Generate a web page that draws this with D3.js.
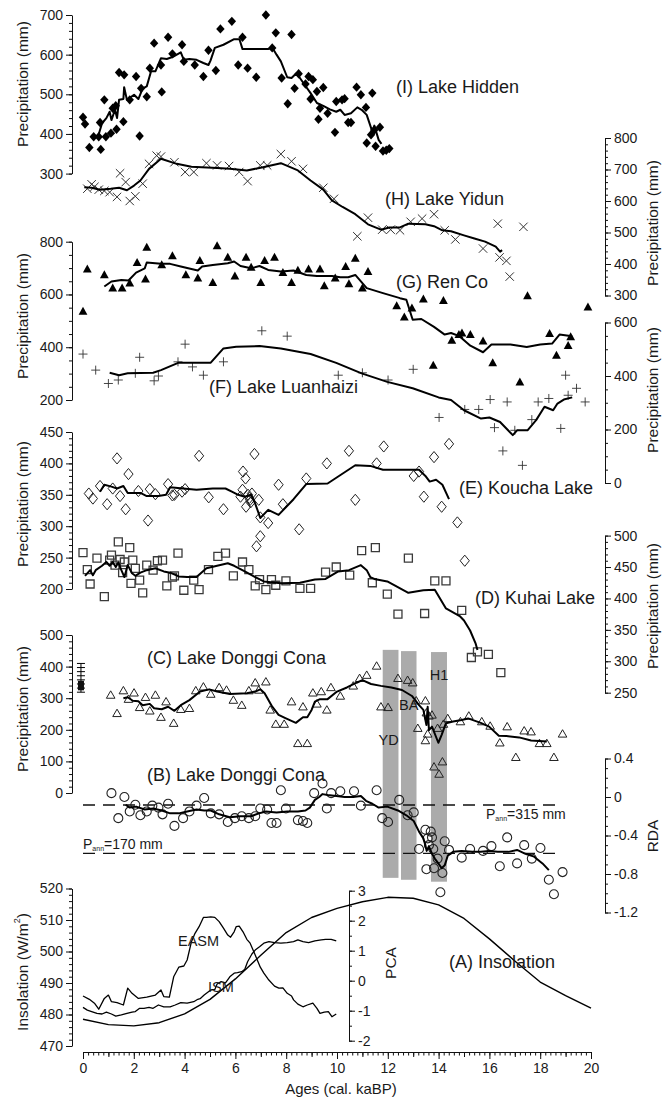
<!DOCTYPE html>
<html>
<head>
<meta charset="utf-8">
<script src="https://cdn.jsdelivr.net/npm/d3@7/dist/d3.min.js"></script>
<style>
  html, body { margin: 0; padding: 0; background: #fff; }
  svg { display: block; font-family: "Liberation Sans", Arial, sans-serif; }
  .axis .domain, .axis line { stroke: #111; stroke-width: 1; }
  .axis text { fill: #1a1a1a; }
</style>
</head>
<body>
<svg id="chart" width="668" height="1097"></svg>
<script>
// ---------- data: [age (cal. kaBP), value] ----------
const hiddenPts = [[0.0,442],[0.08,425],[0.25,366],[0.42,393],[0.62,393],[0.67,429],[0.7,361],[0.84,486],[0.9,393],[1.1,402],[1.17,465],[1.29,471],[1.32,412],[1.42,555],[1.59,431],[1.62,549],[1.84,486],[2.09,545],[2.23,395],[2.29,515],[2.51,494],[2.63,566],[2.8,629],[3.07,574],[3.1,506],[3.35,644],[3.52,602],[3.9,625],[3.97,583],[4.4,574],[4.74,545],[4.94,611],[5.23,560],[5.41,665],[5.86,684],[6.11,574],[6.28,644],[6.48,566],[6.82,543],[7.2,700],[7.45,617],[7.59,655],[7.82,541],[8.06,476],[8.21,651],[8.33,515],[8.49,552],[8.76,526],[8.88,545],[8.96,488],[9.05,537],[9.21,507],[9.27,437],[9.33,465],[9.46,517],[9.63,452],[9.92,404],[9.97,482],[10.2,486],[10.3,489],[10.44,429],[10.55,429],[10.77,518],[10.94,499],[11.14,467],[11.17,377],[11.34,398],[11.39,503],[11.47,410],[11.52,369],[11.69,417],[11.81,357],[11.94,359],[12.06,363]];
const hiddenLine = [[0.59,393],[0.75,427],[0.92,440],[1.05,456],[1.12,435],[1.26,461],[1.34,440],[1.42,486],[1.59,488],[1.62,518],[1.73,486],[2.01,499],[2.18,488],[2.35,515],[2.51,520],[2.68,558],[2.85,558],[3.07,591],[3.3,589],[3.52,594],[3.85,606],[3.97,587],[4.19,589],[4.47,587],[4.74,579],[4.94,574],[5.02,585],[5.19,617],[5.53,625],[5.95,639],[6.16,639],[6.28,614],[6.53,614],[7.29,614],[7.45,618],[7.62,600],[7.79,583],[8.04,543],[8.21,541],[8.38,552],[8.54,541],[8.76,521],[8.96,503],[9.21,478],[9.46,471],[9.72,462],[9.97,456],[10.13,461],[10.3,448],[10.55,452],[10.8,467],[10.97,461],[11.17,448],[11.39,406],[11.47,421],[11.64,385],[11.75,375]];

const yidunPts = [[0.17,639],[0.34,653],[0.45,645],[0.62,636],[0.84,632],[1.05,628],[1.34,613],[1.46,688],[1.68,660],[1.84,600],[2.06,615],[2.35,655],[2.6,718],[2.9,744],[3.07,741],[3.6,723],[4.02,692],[4.36,692],[4.86,720],[5.28,713],[5.75,711],[6.15,692],[6.48,663],[6.98,713],[7.25,713],[7.79,749],[8.21,726],[8.66,702],[9.46,642],[9.88,607],[10.8,488],[11.22,547],[11.78,509],[12.11,509],[12.48,507],[12.9,534],[13.35,544],[13.82,558],[14.24,507],[14.66,478],[15.75,449],[16.33,528],[16.4,421],[16.67,410],[16.8,360],[17.34,518]];
const yidunLine = [[0.05,644],[0.34,642],[0.67,636],[1.09,639],[1.42,642],[1.73,634],[2.01,649],[2.26,665],[2.6,702],[3.07,734],[3.69,718],[4.27,709],[5.28,705],[5.78,702],[6.45,697],[6.95,705],[7.79,720],[8.46,697],[8.96,665],[9.46,636],[9.8,602],[10.22,581],[10.72,558],[11.22,526],[11.73,509],[12.06,516],[12.48,516],[12.81,528],[13.48,526],[13.82,520],[14.15,507],[14.49,504],[15.0,491],[15.41,481],[15.83,471],[16.25,455],[16.42,439],[16.5,444]];

const renPts = [[0.0,536],[0.17,696],[0.84,674],[1.17,624],[1.54,624],[1.84,643],[2.13,721],[2.46,658],[2.51,779],[3.1,712],[3.52,746],[4.05,674],[4.52,662],[4.6,728],[5.11,645],[5.28,784],[5.7,741],[5.98,670],[6.42,741],[6.62,703],[7.0,645],[7.15,728],[7.54,741],[7.87,683],[8.21,645],[8.46,691],[8.88,696],[9.33,696],[9.5,633],[9.93,662],[10.34,706],[10.47,640],[10.72,737],[11.0,624],[11.22,687],[12.35,557],[12.65,514],[12.95,548],[13.4,582],[13.79,331],[14.19,577],[14.52,426],[14.8,448],[14.92,454],[15.25,448],[15.75,423],[16.13,341],[17.2,268],[17.5,595],[18.37,452],[18.64,369],[19.1,406],[19.2,439],[19.88,552]];
const renLine = [[0.84,630],[1.12,649],[1.51,655],[1.79,653],[2.09,683],[2.43,699],[2.51,721],[3.07,716],[3.43,716],[3.85,706],[4.52,691],[4.69,706],[5.11,712],[5.7,718],[5.95,725],[6.2,708],[6.62,699],[6.95,708],[7.29,693],[7.79,687],[8.29,691],[8.79,674],[9.21,670],[9.8,670],[10.13,665],[10.44,665],[10.72,674],[11.17,624],[11.81,605],[12.48,586],[12.73,580],[12.98,504],[13.32,507],[13.82,477],[14.24,448],[14.49,454],[14.82,442],[15.25,406],[15.75,381],[16.08,410],[16.83,410],[17.47,401],[18.0,410],[18.47,414],[18.76,448],[19.26,442]];

const luanPts = [[0.0,482],[0.5,422],[1.0,372],[1.39,385],[2.06,410],[2.23,470],[2.8,382],[2.97,400],[3.74,453],[4.02,519],[4.31,434],[4.74,403],[5.53,453],[7.04,569],[8.04,549],[10.05,403],[11.0,412],[12.01,385],[13.0,425],[14.02,245],[15.03,275],[15.58,275],[16.03,312],[16.2,207],[16.53,120],[16.7,303],[17.0,197],[17.3,66],[17.67,237],[17.92,303],[18.34,316],[18.81,204],[19.0,403],[19.1,328],[19.43,354],[19.77,303]];
const luanLine = [[1.05,412],[1.42,403],[1.76,410],[2.76,412],[3.07,422],[3.77,450],[5.03,450],[5.53,503],[6.03,509],[6.95,512],[7.79,503],[8.96,482],[9.97,449],[10.97,410],[11.98,378],[12.98,354],[14.0,320],[14.49,310],[15.0,272],[15.67,241],[16.0,245],[16.42,228],[16.92,179],[17.09,197],[17.5,197],[17.84,235],[18.17,285],[18.51,272],[18.68,297],[18.93,312],[19.26,320]];

const kouchaPts = [[0.23,352],[0.39,344],[0.67,364],[0.95,335],[1.17,360],[1.34,408],[1.46,348],[1.68,327],[1.79,383],[2.18,356],[2.56,309],[2.63,359],[2.85,351],[3.35,367],[3.52,349],[3.6,350],[3.9,355],[4.02,359],[4.57,412],[4.95,346],[5.53,327],[6.2,347],[6.28,358],[6.3,387],[6.4,376],[6.42,331],[6.5,350],[6.55,345],[6.58,342],[6.6,338],[6.65,352],[6.75,415],[6.83,268],[6.92,342],[6.98,314],[6.98,284],[7.29,305],[7.7,366],[7.87,335],[8.51,295],[8.79,376],[9.6,400],[10.47,420],[10.72,342],[11.56,400],[11.84,427],[13.02,380],[13.23,387],[13.42,347],[13.82,410],[14.12,331],[14.41,431],[14.74,306],[15.03,245]];
const kouchaLine = [[0.67,355],[0.84,366],[1.12,363],[1.34,360],[1.59,364],[1.76,353],[2.26,353],[2.51,348],[2.97,348],[3.27,350],[3.43,362],[3.94,360],[4.47,358],[5.11,360],[5.61,360],[5.86,355],[6.11,350],[6.37,347],[6.62,350],[6.78,336],[6.98,313],[7.29,326],[7.7,318],[8.29,343],[8.79,367],[9.63,368],[10.72,397],[11.31,396],[11.81,390],[13.23,390],[13.48,380],[13.65,371],[13.9,374],[14.15,366],[14.41,343]];

const kuhaiPts = [[0.0,473],[0.17,446],[0.28,423],[0.55,464],[0.84,403],[1.05,461],[1.12,469],[1.26,453],[1.39,490],[1.46,462],[1.56,441],[1.63,458],[1.84,481],[1.89,424],[1.96,461],[2.06,448],[2.23,429],[2.35,409],[2.51,453],[2.76,445],[2.93,460],[3.13,461],[3.3,420],[3.52,434],[3.6,436],[3.74,472],[3.97,413],[4.36,429],[4.57,414],[4.94,446],[5.31,467],[5.61,472],[5.92,436],[6.28,458],[6.53,446],[6.78,420],[6.95,430],[7.2,414],[7.42,430],[7.59,421],[7.99,428],[8.54,416],[8.96,416],[9.55,442],[9.97,450],[10.5,437],[10.97,476],[11.39,425],[11.51,481],[11.98,407],[12.4,375],[12.81,464],[13.45,376],[13.85,428],[14.29,428],[14.91,381],[15.29,306],[15.53,315],[15.96,311],[16.45,282]];
const kuhaiLine = [[0.08,436],[0.28,445],[0.39,437],[0.5,445],[0.75,452],[0.92,458],[1.05,452],[1.17,458],[1.29,450],[1.39,457],[1.51,445],[1.63,434],[1.76,453],[1.93,440],[2.06,436],[2.26,441],[2.51,445],[2.85,448],[3.18,443],[3.43,441],[3.77,435],[4.1,434],[4.47,434],[4.86,448],[5.28,452],[5.7,456],[5.95,452],[6.37,443],[6.78,434],[7.12,427],[7.79,424],[8.54,425],[9.13,430],[9.55,431],[10.05,443],[10.47,445],[10.94,453],[11.17,445],[11.31,434],[11.47,431],[11.98,427],[12.81,409],[13.4,413],[13.85,414],[14.29,384],[14.83,372],[15.0,365],[15.24,349],[15.46,328],[15.53,318]];

const donggiPts = [[1.09,310],[1.34,252],[1.59,324],[1.79,297],[2.01,317],[2.23,271],[2.46,303],[2.63,260],[2.85,310],[3.07,240],[3.27,289],[3.57,221],[3.85,265],[4.19,268],[4.44,324],[4.74,336],[5.03,313],[5.36,334],[5.65,326],[5.92,294],[6.25,278],[6.53,324],[6.78,349],[6.92,326],[7.2,352],[7.37,263],[7.59,218],[7.92,218],[8.21,289],[8.46,157],[8.66,273],[8.83,157],[9.05,317],[9.21,282],[9.38,321],[9.6,263],[9.76,334],[10.13,307],[10.64,339],[10.89,363],[11.17,373],[11.56,402],[11.73,273],[12.01,271],[12.4,363],[12.78,357],[12.98,349],[13.12,292],[13.18,205],[13.48,292],[13.52,254],[13.62,244],[13.74,247],[13.48,166],[13.57,187],[13.82,83],[13.96,205],[14.02,60],[14.15,99],[14.19,218],[14.36,236],[14.86,226],[15.19,244],[15.7,226],[16.03,212],[16.41,159],[16.7,210],[17.04,113],[17.37,197],[17.64,194],[17.97,157],[18.26,157],[18.54,113],[18.88,187]];
const donggiLine = [[1.59,300],[1.76,303],[1.96,292],[2.18,290],[2.35,278],[2.63,282],[2.8,268],[3.1,265],[3.35,273],[3.6,260],[3.85,278],[4.19,294],[4.61,321],[4.97,328],[5.28,321],[5.78,313],[6.45,316],[6.78,321],[6.98,328],[7.15,316],[7.45,273],[7.7,247],[7.99,236],[8.38,222],[8.66,240],[8.83,240],[9.0,263],[9.13,289],[9.33,297],[9.63,297],[10.0,321],[10.39,334],[10.77,349],[11.0,357],[11.34,345],[11.73,339],[12.14,334],[12.56,326],[12.95,307],[13.23,278],[13.4,263],[13.52,215],[13.57,273],[13.62,199],[13.74,210],[13.99,159],[14.12,184],[14.29,221],[14.57,226],[14.91,231],[15.16,236],[15.66,222],[15.99,210],[16.37,181],[16.67,180],[17.17,176],[17.64,166],[18.26,163]];
// stacked error ranges of the transfer function (precipitation, mm)
const errorTicks = [410,397,384,371,358,345,332,319];
const errorCore = [325,355];

const rdaPts = [[1.12,0.04],[1.63,0.0],[1.39,-0.22],[1.84,-0.15],[2.06,-0.08],[2.26,-0.19],[2.51,-0.15],[2.73,-0.09],[2.97,-0.11],[3.13,-0.18],[3.35,-0.07],[3.6,-0.3],[3.94,-0.22],[4.19,-0.15],[4.47,-0.09],[4.77,-0.01],[5.03,-0.17],[5.36,-0.18],[5.7,-0.26],[5.98,-0.22],[6.25,-0.2],[6.53,-0.22],[6.78,-0.2],[6.98,-0.12],[7.25,-0.13],[7.42,-0.27],[7.62,-0.27],[7.79,0.07],[7.99,-0.12],[8.46,-0.24],[8.66,-0.25],[8.83,-0.27],[9.1,0.04],[9.43,0.14],[9.6,-0.12],[9.77,0.04],[10.13,0.06],[10.67,0.06],[10.94,-0.09],[11.56,0.07],[11.78,-0.22],[12.01,-0.26],[12.45,-0.03],[12.78,-0.19],[13.02,-0.16],[13.23,-0.54],[13.48,-0.34],[13.57,-0.43],[13.69,-0.36],[13.62,-0.5],[13.74,-0.42],[13.79,-0.54],[13.96,-0.64],[13.52,-0.75],[13.82,-0.74],[14.15,-0.79],[14.24,-0.46],[14.41,-0.55],[14.91,-0.63],[15.24,-0.54],[15.75,-0.56],[16.08,-0.51],[16.41,-0.72],[16.7,-0.42],[17.09,-0.69],[17.37,-0.5],[17.67,-0.64],[18.01,-0.53],[18.34,-0.86],[18.88,-0.78],[14.07,-0.99],[18.54,-1.01]];
const rdaLine = [[1.68,-0.08],[1.84,-0.11],[2.09,-0.1],[2.43,-0.13],[2.76,-0.12],[3.1,-0.14],[3.43,-0.17],[3.77,-0.17],[4.1,-0.15],[4.47,-0.13],[4.77,-0.14],[5.03,-0.14],[5.36,-0.18],[5.78,-0.21],[6.2,-0.2],[6.62,-0.2],[6.92,-0.17],[7.2,-0.15],[7.62,-0.16],[8.04,-0.15],[8.46,-0.15],[8.76,-0.14],[8.93,-0.11],[9.13,-0.03],[9.3,0.0],[9.43,0.03],[9.63,0.02],[9.97,0.01],[10.3,0.0],[10.64,0.0],[10.94,0.01],[11.14,-0.04],[11.39,-0.07],[11.64,-0.11],[11.98,-0.1],[12.4,-0.14],[12.73,-0.19],[13.02,-0.25],[13.23,-0.36],[13.4,-0.43],[13.48,-0.5],[13.53,-0.56],[13.62,-0.51],[13.74,-0.59],[13.85,-0.64],[13.99,-0.69],[14.12,-0.74],[14.24,-0.71],[14.36,-0.61],[14.57,-0.57],[14.91,-0.56],[15.33,-0.57],[15.66,-0.57],[15.99,-0.56],[16.33,-0.57],[16.75,-0.57],[17.09,-0.55],[17.42,-0.59],[17.76,-0.62],[18.09,-0.69],[18.34,-0.76]];
// modern annual precipitation expressed on the RDA axis
const pannLevels = [{rda: -0.083, label: "315 mm"}, {rda: -0.586, label: "170 mm"}];

// climate events: [start, end] in ka, upper limit in mm, lower limit on the RDA axis
const events = [
  {name: "YD", from: 11.8, to: 12.42, top: 453, bottom: -0.84},
  {name: "BA", from: 12.52, to: 13.13, top: 449, bottom: -0.86},
  {name: "H1", from: 13.7, to: 14.33, top: 446, bottom: -0.88}
];

const insolation = [[0,478.5],[1,476.8],[2,476.4],[3,477.4],[4,480.2],[5,484.8],[6,491.3],[7,498.8],[8,506],[9,510.8],[10,513.7],[11,515.8],[12,517.2],[13,516.9],[14,514.8],[15,510.5],[16,504],[17,497],[18,490.3],[19,486],[20,482]];
const easm = [[0,-0.51],[0.25,-0.62],[0.45,-0.75],[0.62,-0.95],[0.84,-0.59],[1.0,-0.48],[1.12,-0.7],[1.34,-0.73],[1.59,-0.81],[1.76,-0.25],[1.93,-0.42],[2.18,-0.59],[2.51,-0.55],[2.85,-0.48],[3.07,-0.31],[3.18,-0.53],[3.4,-0.55],[3.57,0.13],[3.77,0.45],[3.97,0.49],[4.1,0.69],[4.27,1.3],[4.41,1.58],[4.57,1.8],[4.74,2.11],[4.86,2.11],[5.03,2.13],[5.19,2.11],[5.36,1.97],[5.53,1.75],[5.7,1.52],[5.81,1.45],[5.95,1.63],[6.03,1.8],[6.15,1.82],[6.32,1.6],[6.45,1.38],[6.58,1.25],[6.78,0.86],[6.98,0.45],[7.12,0.25],[7.29,0.05],[7.54,-0.18],[7.71,-0.25],[7.87,-0.24],[8.04,-0.42],[8.21,-0.51],[8.29,-0.64],[8.46,-0.78],[8.66,-0.87],[8.83,-0.81],[9.05,-0.75],[9.21,-0.92],[9.33,-1.09],[9.5,-1.05],[9.66,-1.03],[9.8,-1.2],[9.97,-1.11]];
const ism = [[0,-0.89],[0.17,-0.98],[0.34,-1.03],[0.55,-1.09],[0.75,-1.11],[0.92,-1.05],[1.12,-1.11],[1.29,-1.18],[1.51,-1.14],[1.73,-1.09],[1.93,-1.05],[2.06,-1.03],[2.23,-0.92],[2.4,-0.92],[2.6,-0.89],[2.76,-0.92],[2.97,-0.81],[3.18,-0.87],[3.43,-0.87],[3.63,-0.81],[3.85,-0.73],[4.1,-0.75],[4.36,-0.7],[4.52,-0.62],[4.61,-0.6],[4.77,-0.48],[5.03,-0.31],[5.19,-0.29],[5.28,-0.11],[5.44,-0.03],[5.61,-0.07],[5.78,0.13],[5.95,0.25],[6.08,0.27],[6.25,0.3],[6.37,0.38],[6.48,0.63],[6.65,0.89],[6.78,1.02],[6.95,1.13],[7.12,1.25],[7.32,1.3],[7.54,1.27],[7.79,1.25],[8.04,1.27],[8.29,1.3],[8.46,1.36],[8.66,1.3],[8.88,1.27],[9.13,1.33],[9.38,1.36],[9.55,1.38],[9.77,1.38],[9.97,1.33]];

const ageTicks = d3.range(0, 21, 2);

// ---------- layout ----------
const svg = d3.select("#chart");
svg.append("rect").attr("width", 668).attr("height", 1097).attr("fill", "#fff");

const x = d3.scaleLinear().domain([0, 20]).range([83, 591]);
const X_LEFT = 72, X_RIGHT = 605, X_PCA = 349;
const TICK_FONT = 14, TITLE_FONT = 15.5, LAKE_FONT = 18;

const yHidden = d3.scaleLinear().domain([300, 700]).range([173.6, 15]);
const yYidun  = d3.scaleLinear().domain([300, 800]).range([295.5, 138]);
const yRen    = d3.scaleLinear().domain([200, 800]).range([400, 241.7]);
const yLuan   = d3.scaleLinear().domain([0, 600]).range([483, 322.5]);
const yKoucha = d3.scaleLinear().domain([200, 450]).range([589, 432]);
const yKuhai  = d3.scaleLinear().domain([250, 500]).range([692.7, 535.6]);
const yDonggi = d3.scaleLinear().domain([0, 500]).range([793, 635]);
const yRda    = d3.scaleLinear().domain([-1.2, 0.4]).range([912.5, 758.5]);
const yIns    = d3.scaleLinear().domain([470, 520]).range([1046, 888.5]);
const yPca    = d3.scaleLinear().domain([-2, 3]).range([1040.7, 890.7]);

const plain = d => String(d);   // hyphen-minus, as in the printed figure
function yAxis(scale, side, xPos, majors, minors, fmt) {
  const make = side === "left" ? d3.axisLeft : d3.axisRight;
  const g = svg.append("g").attr("class", "axis").attr("transform", `translate(${xPos},0)`);
  g.call(make(scale).tickValues(majors).tickSize(6).tickSizeOuter(0).tickPadding(3).tickFormat(fmt || plain));
  const m = g.append("g").call(make(scale).tickValues(minors).tickSize(3).tickSizeOuter(0).tickFormat(""));
  m.select(".domain").remove();
  g.selectAll("text").attr("font-size", TICK_FONT);
  return g;
}
const rng = (a, b, s) => d3.range(a, b + s / 2, s).map(v => +v.toFixed(3));

yAxis(yHidden, "left", X_LEFT, rng(300, 700, 100), rng(300, 700, 20));
yAxis(yYidun, "right", X_RIGHT, rng(300, 800, 100), rng(300, 800, 20));
yAxis(yRen, "left", X_LEFT, rng(200, 800, 200), rng(200, 800, 50));
yAxis(yLuan, "right", X_RIGHT, rng(0, 600, 200), rng(0, 600, 50));
yAxis(yKoucha, "left", X_LEFT, rng(200, 450, 50), rng(200, 450, 10));
yAxis(yKuhai, "right", X_RIGHT, rng(250, 500, 50), rng(250, 500, 10));
yAxis(yDonggi, "left", X_LEFT, rng(0, 500, 100), rng(0, 500, 20));
yAxis(yRda, "right", X_RIGHT, rng(-1.2, 0.4, 0.4), rng(-1.2, 0.4, 0.1), d => d === 0 ? "0" : d.toFixed(1));
yAxis(yIns, "left", X_LEFT, rng(470, 520, 10), rng(470, 520, 2));
yAxis(yPca, "right", X_PCA, rng(-2, 3, 1), rng(-2, 3, 0.5));

// age axis
const xa = svg.append("g").attr("class", "axis").attr("transform", "translate(0,1052)");
xa.call(d3.axisBottom(x).tickValues(ageTicks).tickSize(7).tickSizeOuter(0).tickPadding(4).tickFormat(plain));
xa.append("g").call(d3.axisBottom(x).tickValues(rng(0, 20, 0.2)).tickSize(3.5).tickSizeOuter(0).tickFormat("")).select(".domain").remove();
xa.append("g").call(d3.axisBottom(x).tickValues(rng(1, 19, 2)).tickSize(5).tickSizeOuter(0).tickFormat("")).select(".domain").remove();
xa.selectAll("text").attr("font-size", TICK_FONT);

// axis titles
function vTitle(txt, xPos, yMid) {
  return svg.append("text").attr("transform", `translate(${xPos},${yMid}) rotate(-90)`)
    .attr("text-anchor", "middle").attr("dominant-baseline", "central")
    .attr("font-size", TITLE_FONT).attr("fill", "#1a1a1a").text(txt);
}
vTitle("Precipitation (mm)", 22, 84);
vTitle("Precipitation (mm)", 22, 316);
vTitle("Precipitation (mm)", 22, 504);
vTitle("Precipitation (mm)", 22, 709);
vTitle("Precipitation (mm)", 652, 223);
vTitle("Precipitation (mm)", 652, 390);
vTitle("Precipitation (mm)", 652, 606);
vTitle("RDA", 652, 836);
vTitle("PCA", 390, 963);
const insT = svg.append("text").attr("transform", "translate(22,972) rotate(-90)")
  .attr("text-anchor", "middle").attr("dominant-baseline", "central")
  .attr("font-size", TITLE_FONT).attr("fill", "#1a1a1a");
insT.append("tspan").text("Insolation (W/m");
insT.append("tspan").attr("font-size", 9).attr("dy", -5).text("2");
insT.append("tspan").attr("dy", 5).text(")");
svg.append("text").attr("x", (x(0) + x(20)) / 2 + 4).attr("y", 1088).attr("text-anchor", "middle")
  .attr("dominant-baseline", "central").attr("font-size", 15).attr("fill", "#1a1a1a").text("Ages (cal. kaBP)");

// ---------- marker shapes ----------
const shapes = {
  diamond:  {d: "M0,-4.7L4.2,0L0,4.7L-4.2,0Z", fill: "#000", stroke: "none", w: 0},
  cross:    {d: "M-4.2,-4.2L4.2,4.2M-4.2,4.2L4.2,-4.2", fill: "none", stroke: "#333", w: 1},
  tri:      {d: "M0,-4.6L4.4,3.4L-4.4,3.4Z", fill: "#000", stroke: "none", w: 0},
  plus:     {d: "M-4.5,0L4.5,0M0,-4.5L0,4.5", fill: "none", stroke: "#333", w: 0.9},
  odiamond: {d: "M0,-5.6L4.6,0L0,5.6L-4.6,0Z", fill: "none", stroke: "#222", w: 1},
  osquare:  {d: "M-4,-4L4,-4L4,4L-4,4Z", fill: "none", stroke: "#3a3a3a", w: 1.3},
  otri:     {d: "M0,-4.2L4.3,3.2L-4.3,3.2Z", fill: "none", stroke: "#222", w: 1},
  ocircle:  {d: d3.arc()({innerRadius: 0, outerRadius: 4.5, startAngle: 0, endAngle: 2 * Math.PI}), fill: "none", stroke: "#222", w: 1.1}
};
function points(data, y, shape) {
  const s = shapes[shape];
  svg.append("g").selectAll("path").data(data).join("path")
    .attr("transform", d => `translate(${x(d[0])},${y(d[1])})`)
    .attr("d", s.d).attr("fill", s.fill).attr("stroke", s.stroke).attr("stroke-width", s.w);
}
function curve(data, y, width) {
  svg.append("path").datum(data)
    .attr("d", d3.line().x(d => x(d[0])).y(d => y(d[1])))
    .attr("fill", "none").attr("stroke", "#000").attr("stroke-width", width || 2)
    .attr("stroke-linejoin", "round");
}
function label(txt, xPos, yPos, size, anchor) {
  svg.append("text").attr("x", xPos).attr("y", yPos).attr("dominant-baseline", "central")
    .attr("text-anchor", anchor || "start").attr("font-size", size || LAKE_FONT).attr("fill", "#1a1a1a").text(txt);
}

// climate event bands (behind the Donggi Cona records)
svg.append("g").selectAll("rect").data(events).join("rect")
  .attr("x", d => x(d.from)).attr("width", d => x(d.to) - x(d.from))
  .attr("y", d => yDonggi(d.top)).attr("height", d => yRda(d.bottom) - yDonggi(d.top))
  .attr("fill", "#ababab");

// modern precipitation reference lines
svg.append("g").selectAll("line").data(pannLevels).join("line")
  .attr("x1", x(0)).attr("x2", x(18.84))
  .attr("y1", d => yRda(d.rda)).attr("y2", d => yRda(d.rda))
  .attr("stroke", "#111").attr("stroke-width", 1.4).attr("stroke-dasharray", "12,8");
function pann(lvl, xPos, yPos) {
  const t = svg.append("text").attr("x", xPos).attr("y", yPos).attr("dominant-baseline", "central")
    .attr("font-size", 14).attr("fill", "#1a1a1a");
  t.append("tspan").text("P");
  t.append("tspan").attr("font-size", 7).attr("dy", 4).text("ann");
  t.append("tspan").attr("dy", -4).text("=" + lvl.label);
}
pann(pannLevels[0], 486, yRda(pannLevels[0].rda) + 9);
pann(pannLevels[1], 83, yRda(pannLevels[1].rda) - 9);

// records
points(hiddenPts, yHidden, "diamond");   curve(hiddenLine, yHidden);
points(yidunPts, yYidun, "cross");       curve(yidunLine, yYidun);
points(renPts, yRen, "tri");             curve(renLine, yRen);
points(luanPts, yLuan, "plus");          curve(luanLine, yLuan);
points(kouchaPts, yKoucha, "odiamond");  curve(kouchaLine, yKoucha);
points(kuhaiPts, yKuhai, "osquare");     curve(kuhaiLine, yKuhai);
points(donggiPts, yDonggi, "otri");      curve(donggiLine, yDonggi);
points(rdaPts, yRda, "ocircle");         curve(rdaLine, yRda);

// error-range glyph next to the Donggi Cona axis
const eg = svg.append("g").attr("transform", `translate(${x(-0.08)},0)`);
eg.append("line").attr("y1", yDonggi(errorTicks[0])).attr("y2", yDonggi(errorTicks[errorTicks.length - 1]))
  .attr("stroke", "#000").attr("stroke-width", 1);
eg.selectAll("line.t").data(errorTicks).join("line").attr("class", "t")
  .attr("x1", -4).attr("x2", 4).attr("y1", d => yDonggi(d)).attr("y2", d => yDonggi(d))
  .attr("stroke", "#000").attr("stroke-width", 1);
eg.append("rect").attr("x", -3).attr("width", 6)
  .attr("y", yDonggi(errorCore[1])).attr("height", yDonggi(errorCore[0]) - yDonggi(errorCore[1]))
  .attr("fill", "#111");

// insolation and monsoon indices
curve(insolation, yIns, 1.4);
curve(easm, yPca, 1.3);
curve(ism, yPca, 1.3);

// panel labels
label("(I) Lake Hidden", 396, 87);
label("(H) Lake Yidun", 385, 199);
label("(G) Ren Co", 396, 282);
label("(F) Lake Luanhaizi", 209, 387);
label("(E) Koucha Lake", 459, 488);
label("(D) Kuhai Lake", 475, 598);
label("(C) Lake Donggi Cona", 147, 658);
label("(B) Lake Donggi Cona", 147, 775);
label("(A) Insolation", 449, 962);
label("EASM", 178, 941, 14.5);
label("ISM", 208, 987, 14.5);
events.forEach((e, i) => {
  const yy = [740, 705, 675][i];
  label(e.name, x((e.from + e.to) / 2) + (i === 0 ? -2 : 0), yy, 14.5, "middle");
});
</script>
</body>
</html>
